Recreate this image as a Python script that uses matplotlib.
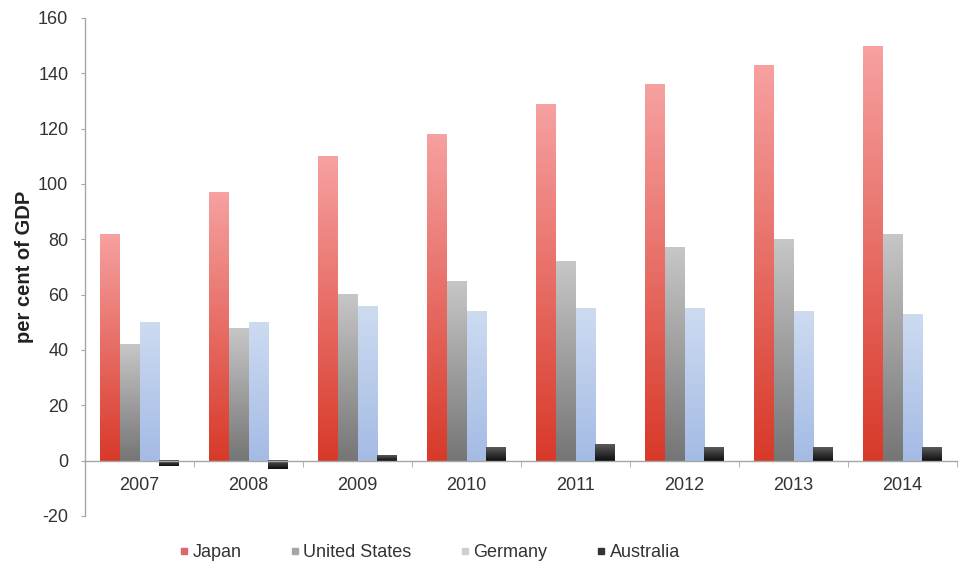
import numpy as np
import matplotlib.pyplot as plt
from matplotlib.colors import LinearSegmentedColormap
from matplotlib.lines import Line2D

years = ['2007', '2008', '2009', '2010', '2011', '2012', '2013', '2014']
japan = [82, 97, 110, 118, 129, 136, 143, 150]
united_states = [42, 48, 60, 65, 72, 77, 80, 82]
germany = [50, 50, 56, 54, 55, 55, 54, 53]
australia = [-2, -3, 2, 5, 6, 5, 5, 5]

series = [
    ('Japan', japan, ('#f6a0a0', '#d83a2a'), '#e0656f'),
    ('United States', united_states, ('#c6c6c6', '#767676'), '#a6a6a6'),
    ('Germany', germany, ('#cddbf1', '#a4bbe4'), '#cfcfcf'),
    ('Australia', australia, ('#5a5a5a', '#0e0e0e'), '#333333'),
]

plt.rcParams['font.family'] = ['Liberation Sans', 'DejaVu Sans']
plt.rcParams['axes.unicode_minus'] = False

fig = plt.figure(figsize=(9.76, 5.65), dpi=100)
ax = fig.add_axes([85 / 976, 49 / 565, 872 / 976, 498 / 565])

x = np.arange(len(years))
width = 0.183
offsets = (np.arange(4) - 1.5) * width

ramp = np.linspace(0, 1, 64).reshape(-1, 1)
for (name, vals, (top, bottom), _), off in zip(series, offsets):
    bars = ax.bar(x + off, vals, width, color='none', linewidth=0)
    cmap = LinearSegmentedColormap.from_list(name, [top, bottom])
    for b in bars:
        x0, w = b.get_x(), b.get_width()
        y0, h = b.get_y(), b.get_height()
        lo, hi = min(y0, y0 + h), max(y0, y0 + h)
        # gradient runs light at the top of the bar to dark at the base
        ax.imshow(ramp, cmap=cmap, aspect='auto', extent=(x0, x0 + w, lo, hi),
                  origin='upper', interpolation='bicubic', zorder=2)

ax.set_xlim(-0.5, len(years) - 0.5)
ax.set_ylim(-20, 160)
ax.set_yticks(range(-20, 161, 20))

ax.spines['top'].set_visible(False)
ax.spines['right'].set_visible(False)
ax.spines['bottom'].set_position(('data', 0))
for s in ('left', 'bottom'):
    ax.spines[s].set_color('#a6a6a6')
    ax.spines[s].set_linewidth(1.0)
    ax.spines[s].set_zorder(3)

ax.set_xticks(x)
ax.set_xticklabels(years)
ax.set_xticks(np.arange(-0.5, len(years)), minor=True)
ax.tick_params(axis='x', which='major', length=0, pad=12, labelsize=13, labelcolor='#333333')
ax.tick_params(axis='x', which='minor', length=4, color='#a6a6a6', direction='out')
ax.tick_params(axis='y', length=3, color='#a6a6a6', pad=9, labelsize=13, labelcolor='#333333')

ax.set_ylabel('per cent of GDP', fontsize=14.5, fontweight='bold', color='#222222', labelpad=3)

handles = [Line2D([], [], marker='s', linestyle='none', markersize=5, color=c, label=n)
           for n, _, _, c in series]
fig.legend(handles=handles, loc='lower center', bbox_to_anchor=(0.439, -0.022), ncol=4,
           frameon=False, fontsize=13, handletextpad=0.05, columnspacing=2.58,
           handlelength=0.8, labelcolor='#333333')

fig.savefig('out.png', dpi=100)
